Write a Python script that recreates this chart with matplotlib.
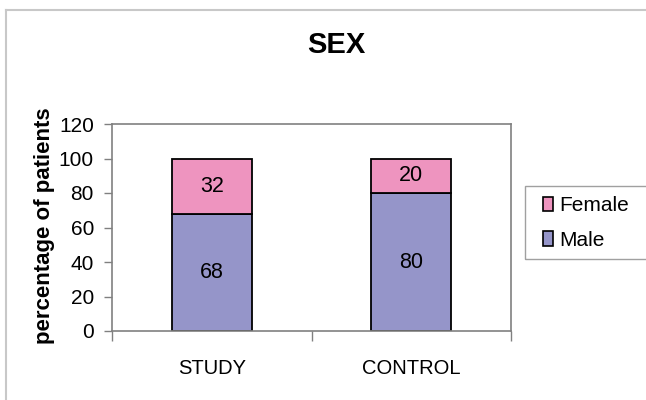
import matplotlib
matplotlib.use('Agg')
import matplotlib.pyplot as plt
from matplotlib.patches import Patch, Rectangle
from matplotlib.lines import Line2D

plt.rcParams['font.family'] = ['Liberation Sans', 'DejaVu Sans']

# data
groups = ['STUDY', 'CONTROL']
male = [68, 80]
female = [32, 20]
y_ticks = [0, 20, 40, 60, 80, 100, 120]

male_color = '#9595C9'
female_color = '#EE94BF'
grey = '#808080'

fig = plt.figure(figsize=(6.46, 4.0), dpi=100)
ax = fig.add_axes([112 / 646, 69 / 400, 399 / 646, 207 / 400])

x = list(range(len(groups)))
ax.bar(x, male, width=0.4, color=male_color, edgecolor='black', linewidth=1.3)
ax.bar(x, female, width=0.4, bottom=male, color=female_color,
       edgecolor='black', linewidth=1.3)

# labels inside the segments
for i in x:
    ax.text(i, male[i] / 2, str(male[i]), ha='center', va='center', fontsize=15.5)
    ax.text(i, male[i] + female[i] / 2, str(female[i]), ha='center', va='center',
            fontsize=15.5)

ax.set_xlim(-0.5, len(groups) - 0.5)
ax.set_ylim(0, 120)
ax.set_yticks(y_ticks)
ax.tick_params(axis='y', length=6, width=1, color=grey, labelsize=15, pad=7)

ax.set_xticks(x)
ax.set_xticklabels(groups)
ax.set_xticks([-0.5, 0.5, 1.5], minor=True)
ax.tick_params(axis='x', which='major', length=0, labelsize=14.5, pad=20)
ax.tick_params(axis='x', which='minor', length=7, width=1, color=grey)

for s in ax.spines.values():
    s.set_color(grey)
    s.set_linewidth(1.2)

fig.text(45 / 646, 0.435, 'percentage of patients', rotation=90,
         ha='center', va='center', fontsize=16, fontweight='bold')
fig.text(336 / 646, 1 - 45 / 400, 'SEX', ha='center', va='center',
         fontsize=21, fontweight='bold')

# legend: its box runs past the right edge of the picture, so draw the box apart
fig.add_artist(Rectangle((525 / 646, 1 - 259 / 400), 0.3, 73 / 400, fill=False,
                         edgecolor='#a0a0a0', linewidth=1,
                         transform=fig.transFigure))
handles = [Patch(facecolor=female_color, edgecolor='black', linewidth=1.2),
           Patch(facecolor=male_color, edgecolor='black', linewidth=1.2)]
fig.legend(handles, ['Female', 'Male'], loc='center left',
           bbox_to_anchor=(543 / 646, 1 - 223 / 400),
           fontsize=15, frameon=False,
           handlelength=0.5, handleheight=0.7, handletextpad=0.3,
           borderpad=0, labelspacing=0.75, borderaxespad=0)

# outer chart frame (only top and left edges are inside the crop)
fig.add_artist(Line2D([6 / 646, 1.0], [1 - 10 / 400, 1 - 10 / 400],
                      color='#c8c8c8', linewidth=1.5, transform=fig.transFigure))
fig.add_artist(Line2D([6 / 646, 6 / 646], [0, 1 - 10 / 400],
                      color='#c8c8c8', linewidth=1.5, transform=fig.transFigure))

fig.savefig('out.png', dpi=100)
